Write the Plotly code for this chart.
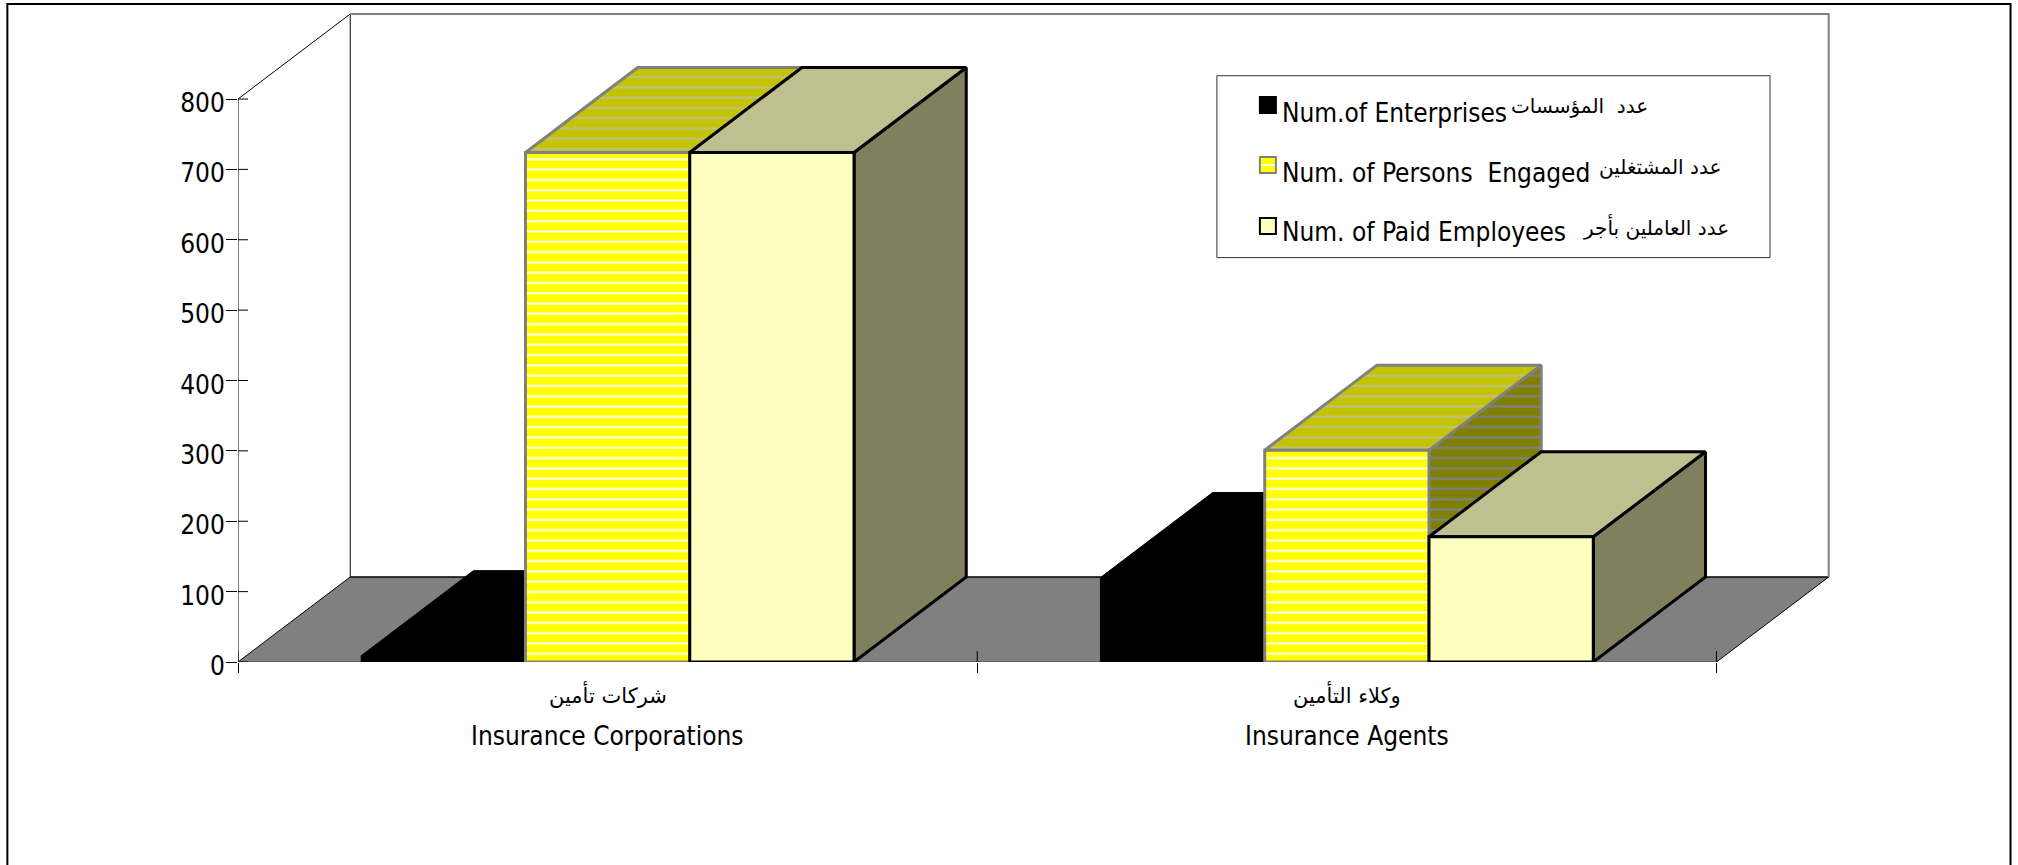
import plotly.graph_objects as go

# ---- data ----
categories_en = ["Insurance Corporations", "Insurance Agents"]
categories_ar = ["شركات تأمين", "وكلاء التأمين"]
enterprises = [9, 120]
persons = [724, 301]
paid = [724, 178]
y_ticks = [0, 100, 200, 300, 400, 500, 600, 700, 800]
legend_en = ["Num.of Enterprises", "Num. of Persons  Engaged", "Num. of Paid Employees"]
legend_ar = ["عدد  المؤسسات", "عدد المشتغلين", "عدد العاملين بأجر"]

# ---- geometry ----
W, H = 2018, 865
L, R, T, B = 238.3, 1840.0, 10.0, 661.7
PX_CAT = 739.1
PX_VAL = 0.7034
DX = 112.2 / PX_CAT
DY = 85.0 / PX_VAL
BAR = 1 / 4.5
plot_w, plot_h = R - L, B - T
XMIN = -0.5
XMAX = XMIN + plot_w / PX_CAT
YMAX = plot_h / PX_VAL
YTOP = y_ticks[-1]
XEND = XMIN + len(categories_en)

FONT = "DejaVu Sans Condensed, DejaVu Sans"
AR_FONT = "DejaVu Sans"
FS = 26


def fx(px):
    return (px - L) / plot_w


def fy(py):
    return (B - py) / plot_h


fig = go.Figure()


def poly(xs, ys, fill, line=None, lw=0, pattern=None):
    d = dict(
        x=xs + xs[:1], y=ys + ys[:1], mode="lines", fill="toself",
        fillcolor=fill, hoverinfo="skip", showlegend=False,
        line=dict(color=line or fill, width=lw),
    )
    if pattern:
        d["fillpattern"] = pattern
    if lw == 0:
        d["line"] = dict(color="rgba(0,0,0,0)", width=0)
    fig.add_trace(go.Scatter(**d))


def seg(xs, ys, color="#000000", lw=1):
    fig.add_trace(go.Scatter(x=xs, y=ys, mode="lines", hoverinfo="skip", showlegend=False,
                             line=dict(color=color, width=lw)))


def stripes(bg, fg):
    return dict(shape="-", bgcolor=bg, fgcolor=fg, size=10.3, solidity=0.22, fillmode="replace")


# floor and walls
poly([XMIN, XMIN + DX, XEND + DX, XEND], [0, DY, DY, 0], "#808080")
seg([XMIN, XMIN + DX], [0, DY], "#000000", 1)
seg([XEND, XEND + DX], [0, DY], "#000000", 1)
seg([XMIN + DX, XEND + DX], [DY, DY], "#000000", 1.5)
seg([XMIN + DX, XMIN + DX], [DY, YTOP + DY], "#000000", 1)
seg([XMIN, XMIN + DX], [YTOP, YTOP + DY], "#000000", 1)
seg([XMIN + DX, XEND + DX, XEND + DX], [YTOP + DY, YTOP + DY, DY], "#808080", 2)
seg([XMIN, XEND], [0, 0], "#c0c0c0", 2)
seg([XMIN, XEND], [0, 0], "#000000", 1)

# axes
seg([XMIN, XMIN], [0, YTOP], "#000000", 1)
for v in y_ticks:
    seg([XMIN, XMIN + 10 / PX_CAT], [v, v], "#000000", 1)
for i in range(len(categories_en) + 1):
    seg([XMIN + i, XMIN + i], [0, 11 / PX_VAL], "#000000", 1)

styles = [
    dict(front="#000000", top="#000000", side="#000000", line="#000000", lw=1),
    dict(front="#ffff00", top="#c3c300", side="#808000", line="#808080", lw=3,
         pf=stripes("#ffff00", "#ffffe0"), pt=stripes("#c3c300", "#c0c080"), ps=stripes("#808000", "#808080")),
    dict(front="#ffffc0", top="#bfbf90", side="#80805f", line="#000000", lw=3),
]
series = [enterprises, persons, paid]
for c in range(len(categories_en)):
    for s, vals in enumerate(series):
        v = vals[c]
        st = styles[s]
        x0 = c + (s - 1.5) * BAR
        x1 = x0 + BAR
        poly([x1, x1 + DX, x1 + DX, x1], [0, DY, v + DY, v], st["side"], st["line"], st["lw"], st.get("ps"))
        poly([x0, x1, x1 + DX, x0 + DX], [v, v, v + DY, v + DY], st["top"], st["line"], st["lw"], st.get("pt"))
        poly([x0, x1, x1, x0], [0, 0, v, v], st["front"], st["line"], st["lw"], st.get("pf"))

shapes = [
    # outer chart frame, open at the bottom of the page
    dict(type="rect", xref="paper", yref="paper", x0=fx(7.7), x1=fx(2010.5), y0=fy(950), y1=fy(4),
         line=dict(color="#000000", width=2), layer="below"),
    # legend box
    dict(type="rect", xref="paper", yref="paper", x0=fx(1217), x1=fx(1770), y0=fy(257.5), y1=fy(75.7),
         line=dict(color="#333333", width=1), fillcolor="#ffffff"),
]
annotations = []

# category labels
for c in range(len(categories_en)):
    annotations.append(dict(x=c, y=0, xref="x", yref="y", yshift=-32, text=categories_ar[c], showarrow=False,
                            font=dict(family=AR_FONT, size=21, color="#000000")))
    annotations.append(dict(x=c, y=0, xref="x", yref="y", yshift=-74, text=categories_en[c], showarrow=False,
                            font=dict(family=FONT, size=FS, color="#000000")))

# legend rows
key_top = [97, 157, 218]
text_mid = [113, 173, 232]
ar_mid = [105.5, 167, 227]
ar_right = [1650, 1723, 1731]
key_styles = [("#000000", "#000000"), ("#ffff00", "#808080"), ("#ffffc0", "#000000")]
for i, name in enumerate(legend_en):
    fill, edge = key_styles[i]
    shapes.append(dict(type="rect", xref="paper", yref="paper", x0=fx(1260), x1=fx(1276),
                       y0=fy(key_top[i] + 16), y1=fy(key_top[i]),
                       line=dict(color=edge, width=2), fillcolor=fill))
    if i == 1:
        shapes.append(dict(type="rect", xref="paper", yref="paper", x0=fx(1261), x1=fx(1275),
                           y0=fy(key_top[i] + 9), y1=fy(key_top[i] + 7),
                           line=dict(width=0), fillcolor="#ffffff"))
    annotations.append(dict(x=fx(1280), y=fy(text_mid[i]), xref="paper", yref="paper", xanchor="left",
                            yanchor="middle", text=name, showarrow=False,
                            font=dict(family=FONT, size=FS, color="#000000")))
    annotations.append(dict(x=fx(ar_right[i]), y=fy(ar_mid[i]), xref="paper", yref="paper", xanchor="right",
                            yanchor="middle", text=legend_ar[i], showarrow=False,
                            font=dict(family=AR_FONT, size=20, color="#000000")))

fig.update_layout(
    width=W, height=H, autosize=False,
    margin=dict(l=L, r=W - R, t=T, b=H - B, pad=0),
    paper_bgcolor="#ffffff", plot_bgcolor="#ffffff",
    showlegend=False, shapes=shapes, annotations=annotations,
    xaxis=dict(range=[XMIN, XMAX], tickmode="array",
               tickvals=[XMIN + i for i in range(len(categories_en) + 1)], ticktext=["", "", ""],
               ticks="outside", ticklen=10, tickcolor="#000000", tickwidth=1,
               showgrid=False, zeroline=False, showline=False),
    yaxis=dict(range=[0, YMAX], tickmode="array", tickvals=y_ticks, ticks="outside",
               ticklen=11, tickcolor="#000000", tickwidth=1, ticklabelstandoff=-4, ticklabelshift=4,
               tickfont=dict(family=FONT, size=FS, color="#000000"),
               showgrid=False, zeroline=False, showline=False),
)
fig.write_html("out.html", config={"displayModeBar": False},
               post_script="document.body.style.margin='0';document.body.style.overflow='hidden';")
